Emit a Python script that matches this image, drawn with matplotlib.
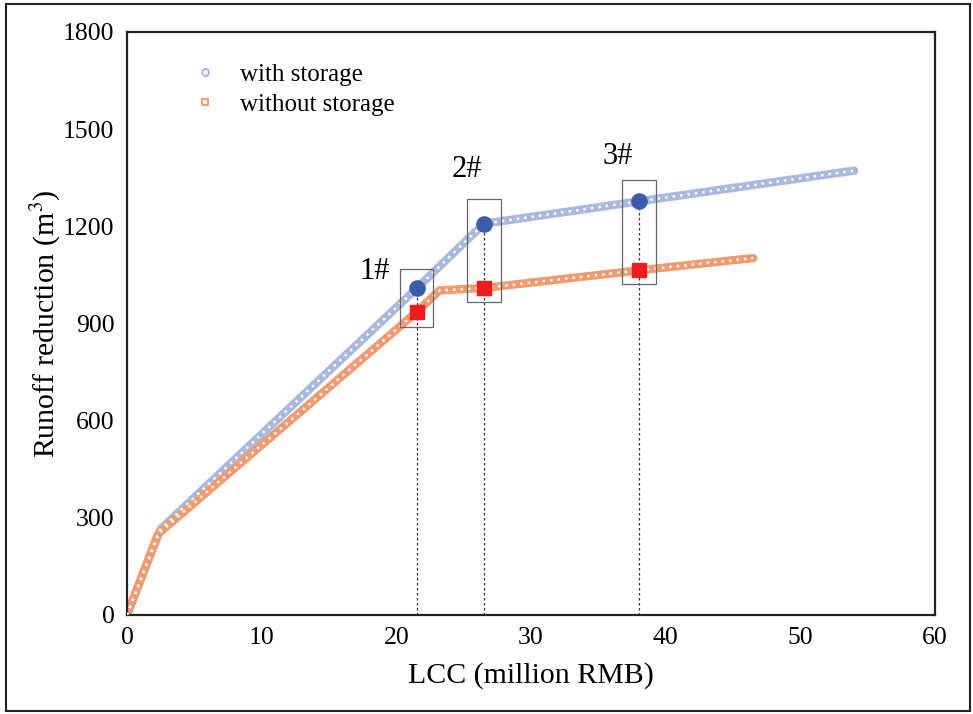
import matplotlib.pyplot as plt
from matplotlib.patches import Rectangle

plt.rcParams['font.family'] = ['Liberation Serif', 'DejaVu Serif']
plt.rcParams['mathtext.fontset'] = 'stix'

# curve breakpoints (LCC in million RMB, runoff reduction in m3)
with_x = [0, 2.5, 21.5, 26.5, 38.0, 54.0]
with_y = [0, 265, 1008, 1208, 1277, 1372]
without_x = [0, 2.3, 21.5, 23.2, 26.6, 38.0, 46.5]
without_y = [0, 250, 935, 1002, 1010, 1064, 1102]

# selected schemes
scheme_labels = ['1#', '2#', '3#']
scheme_x = [21.5, 26.5, 38.0]
scheme_with = [1008, 1208, 1277]
scheme_without = [935, 1010, 1064]
box_y = [(890, 1068), (965, 1285), (1022, 1342)]
label_pos = [(18.4, 1060), (25.2, 1376), (36.4, 1415)]

blue_line = '#a9b8de'
orange_line = '#f19a70'

fig = plt.figure(figsize=(9.73, 7.14), dpi=100)
ax = fig.add_axes([0.1305, 0.1387, 0.8305, 0.8165])

ax.plot(with_x, with_y, color=blue_line, lw=6, solid_capstyle='round', zorder=2)
ax.plot(with_x, with_y, color='white', lw=1.8, ls=(0, (1, 2.0)), zorder=3)
ax.plot(without_x, without_y, color=orange_line, lw=6, solid_capstyle='round', zorder=2)
ax.plot(without_x, without_y, color='white', lw=1.8, ls=(0, (1, 2.0)), zorder=3)

for lab, x, yw, yo, (b0, b1), (lx, ly) in zip(scheme_labels, scheme_x, scheme_with,
                                              scheme_without, box_y, label_pos):
    ax.plot([x, x], [0, yw], color='#333333', lw=0.9, ls=(0, (2, 2)), zorder=1)
    ax.add_patch(Rectangle((x - 1.25, b0), 2.5, b1 - b0, fill=False,
                           edgecolor='#666666', lw=0.9, zorder=4))
    ax.text(lx, ly, lab, fontsize=22, ha='center', va='center')

ax.scatter(scheme_x, scheme_with, s=120, marker='o', color='#3b5ca8', zorder=5)
ax.scatter(scheme_x, scheme_without, s=105, marker='s', color='#ee1c1c', zorder=5)

# legend handles
ax.plot([], [], ls='none', marker='o', ms=5, mfc='none', mec=blue_line, mew=1.4,
        label='with storage')
ax.plot([], [], ls='none', marker='s', ms=5, mfc='none', mec=orange_line, mew=1.4,
        label='without storage')
ax.legend(loc='upper left', bbox_to_anchor=(0.053, 0.985), frameon=False, fontsize=18,
          handlelength=1.0, handletextpad=0.9, labelspacing=0.3)

ax.set_xlim(0, 60)
ax.set_ylim(0, 1800)
ax.set_xticks(range(0, 61, 10))
ax.set_yticks(range(0, 1801, 300))
ax.tick_params(length=0, labelsize=18.5, pad=9)
for s in ax.spines.values():
    s.set_linewidth(1.6)
    s.set_color('#222222')
ax.set_xlabel('LCC (million RMB)', fontsize=21.5, labelpad=9)
ax.set_ylabel('Runoff reduction (m$^3$)', fontsize=21.5, labelpad=0)

fig.patches.append(Rectangle((0.006, 0.004), 0.991, 0.99, transform=fig.transFigure,
                             fill=False, edgecolor='#222222', lw=1.5))

fig.savefig('out.png', dpi=100)
